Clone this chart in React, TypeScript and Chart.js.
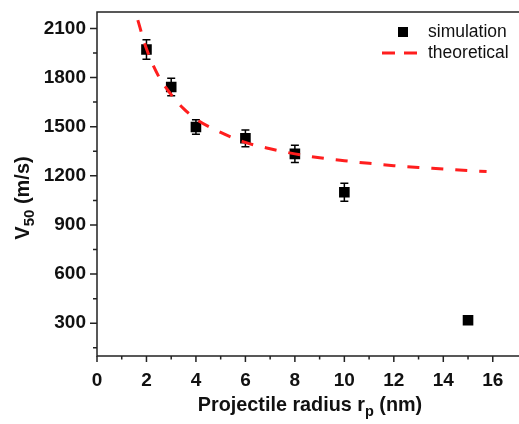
import React, { useEffect, useRef } from 'react';
import { Chart, registerables } from 'chart.js';

Chart.register(...registerables);

// ---- data ----
const simX = [2, 3, 4, 6, 8, 10, 15];
const simY = [1971, 1742, 1498, 1429, 1334, 1100, 318];
const simErr = [59, 54, 44, 51, 53, 55, 10];

const theoX = [1.65, 2, 2.5, 3, 3.5, 4, 5, 6, 7, 8, 9, 10, 11, 12, 13, 14, 15, 15.75];
const theoY = [2150, 1975, 1805, 1696, 1610, 1547, 1465, 1404, 1365, 1334, 1310, 1292, 1276, 1262, 1251, 1242, 1232, 1226];

const xTickValues = [0, 1, 2, 3, 4, 5, 6, 7, 8, 9, 10, 11, 12, 13, 14, 15, 16];
const xLabelStep = 2;
const yTickValues = [150, 300, 450, 600, 750, 900, 1050, 1200, 1350, 1500, 1650, 1800, 1950, 2100];
const yLabelStep = 300;

const seriesLabels = ['simulation', 'theoretical'];
const xTitleParts = ['Projectile radius r', 'p', ' (nm)'];
const yTitleParts = ['V', '50', ' (m/s)'];

const FONT = '"Liberation Sans", Arial, Helvetica, sans-serif';
const RED = '#ff1e1e';

function drawSubText(ctx: CanvasRenderingContext2D, parts: string[], cx: number, y: number, big: number, small: number, shift: number) {
  const bigF = `bold ${big}px ${FONT}`;
  const smallF = `bold ${small}px ${FONT}`;
  ctx.font = bigF;
  const w0 = ctx.measureText(parts[0]).width;
  const w2 = ctx.measureText(parts[2]).width;
  ctx.font = smallF;
  const w1 = ctx.measureText(parts[1]).width;
  let x = cx - (w0 + w1 + w2) / 2;
  ctx.textAlign = 'left';
  ctx.textBaseline = 'alphabetic';
  ctx.font = bigF;
  ctx.fillText(parts[0], x, y);
  x += w0;
  ctx.font = smallF;
  ctx.fillText(parts[1], x, y + shift);
  x += w1;
  ctx.font = bigF;
  ctx.fillText(parts[2], x, y);
}

const decorPlugin = {
  id: 'decor',
  beforeDatasetsDraw(chart: any) {
    const ctx = chart.ctx as CanvasRenderingContext2D;
    const xs = chart.scales.x;
    const ys = chart.scales.y;
    ctx.save();
    ctx.strokeStyle = '#000';
    ctx.lineWidth = 1.5;
    simX.forEach((xv, i) => {
      const px = xs.getPixelForValue(xv);
      const top = ys.getPixelForValue(simY[i] + simErr[i]);
      const bot = ys.getPixelForValue(simY[i] - simErr[i]);
      ctx.beginPath();
      ctx.moveTo(px, top);
      ctx.lineTo(px, bot);
      ctx.moveTo(px - 4, top);
      ctx.lineTo(px + 4, top);
      ctx.moveTo(px - 4, bot);
      ctx.lineTo(px + 4, bot);
      ctx.stroke();
    });
    ctx.restore();
  },
  afterDraw(chart: any) {
    const ctx = chart.ctx as CanvasRenderingContext2D;
    const { left, right, top, bottom } = chart.chartArea;
    const xs = chart.scales.x;
    const ys = chart.scales.y;
    ctx.save();
    // frame
    ctx.strokeStyle = '#222';
    ctx.lineWidth = 1.5;
    ctx.beginPath();
    ctx.moveTo(right + 2, top);
    ctx.lineTo(left, top);
    ctx.lineTo(left, bottom);
    ctx.lineTo(right + 2, bottom);
    ctx.stroke();
    // tick marks
    ctx.lineWidth = 1.5;
    ctx.beginPath();
    xs.ticks.forEach((t: any) => {
      const px = xs.getPixelForValue(t.value);
      const len = t.value % xLabelStep === 0 ? 6 : 3.5;
      ctx.moveTo(px, bottom);
      ctx.lineTo(px, bottom + len);
    });
    ys.ticks.forEach((t: any) => {
      const py = ys.getPixelForValue(t.value);
      const len = t.value % yLabelStep === 0 ? 7 : 4;
      ctx.moveTo(left, py);
      ctx.lineTo(left - len, py);
    });
    ctx.stroke();

    // axis titles
    ctx.fillStyle = '#111';
    drawSubText(ctx, xTitleParts, left + 213, 411, 19.8, 14.5, 5);
    ctx.save();
    ctx.translate(29, (top + bottom) / 2 + 14);
    ctx.rotate(-Math.PI / 2);
    drawSubText(ctx, yTitleParts, 0, 0, 20, 15, 5);
    ctx.restore();

    // legend
    const ds = chart.data.datasets;
    const lx = left + 306;
    ctx.fillStyle = '#000';
    ctx.fillRect(lx - 5, top + 15, 10, 10);
    ctx.strokeStyle = RED;
    ctx.lineWidth = 3;
    ctx.setLineDash([13, 9]);
    ctx.beginPath();
    ctx.moveTo(lx - 21, top + 41);
    ctx.lineTo(lx + 14, top + 41);
    ctx.stroke();
    ctx.setLineDash([]);
    ctx.fillStyle = '#111';
    ctx.font = `17.5px ${FONT}`;
    ctx.textAlign = 'left';
    ctx.textBaseline = 'middle';
    ctx.fillText(ds[0].label, lx + 25, top + 20);
    ctx.fillText(ds[1].label, lx + 25, top + 41);
    ctx.restore();
  },
};

export default function App() {
  const ref = useRef<HTMLCanvasElement>(null);
  useEffect(() => {
    const canvas = ref.current!;
    const tickFont = { family: FONT, size: 19, weight: 'bold' as const };
    const chart = new Chart(canvas, {
      type: 'scatter',
      data: {
        datasets: [
          {
            label: seriesLabels[0],
            data: simX.map((x, i) => ({ x, y: simY[i] })),
            pointStyle: 'rect',
            pointRadius: 7.5,
            pointHoverRadius: 7.5,
            backgroundColor: '#000',
            borderColor: '#000',
            borderWidth: 0,
            showLine: false,
            order: 1,
          },
          {
            label: seriesLabels[1],
            data: theoX.map((x, i) => ({ x, y: theoY[i] })),
            showLine: true,
            borderColor: RED,
            backgroundColor: RED,
            borderWidth: 3,
            borderDash: [12, 12],
            pointRadius: 0,
            pointHoverRadius: 0,
            cubicInterpolationMode: 'monotone',
            fill: false,
            order: 0,
          } as any,
        ],
      },
      options: {
        animation: false,
        responsive: false,
        devicePixelRatio: 1,
        layout: { padding: { top: 12, left: 0, right: 0, bottom: 0 } },
        plugins: {
          legend: { display: false },
          tooltip: { enabled: false },
          title: { display: false },
        },
        scales: {
          x: {
            type: 'linear',
            min: 0,
            max: 17,
            afterBuildTicks: (s: any) => {
              s.ticks = xTickValues.map((v) => ({ value: v }));
            },
            afterFit: (s: any) => {
              s.height = 68;
              s.paddingLeft = 0;
              s.paddingRight = 0;
            },
            ticks: {
              autoSkip: false,
              maxRotation: 0,
              padding: 13,
              color: '#111',
              font: tickFont,
              callback: (v: any) => (Number(v) % xLabelStep === 0 ? String(v) : ''),
            },
            grid: { display: false, drawTicks: false },
            border: { display: false },
          },
          y: {
            type: 'linear',
            min: 100,
            max: 2200,
            afterBuildTicks: (s: any) => {
              s.ticks = yTickValues.map((v) => ({ value: v }));
            },
            afterFit: (s: any) => {
              s.width = 97;
              s.paddingTop = 0;
              s.paddingBottom = 0;
            },
            ticks: {
              autoSkip: false,
              padding: 11,
              color: '#111',
              font: tickFont,
              callback: (v: any) => (Number(v) % yLabelStep === 0 ? String(v) : ''),
            },
            grid: { display: false, drawTicks: false },
            border: { display: false },
          },
        },
      },
      plugins: [decorPlugin],
    });
    return () => chart.destroy();
  }, []);

  return (
    <div style={{ position: 'fixed', left: 0, top: 0, width: 519, height: 424, overflow: 'hidden', background: '#fff' }}>
      <canvas ref={ref} width={525} height={424} style={{ display: 'block' }} />
    </div>
  );
}
